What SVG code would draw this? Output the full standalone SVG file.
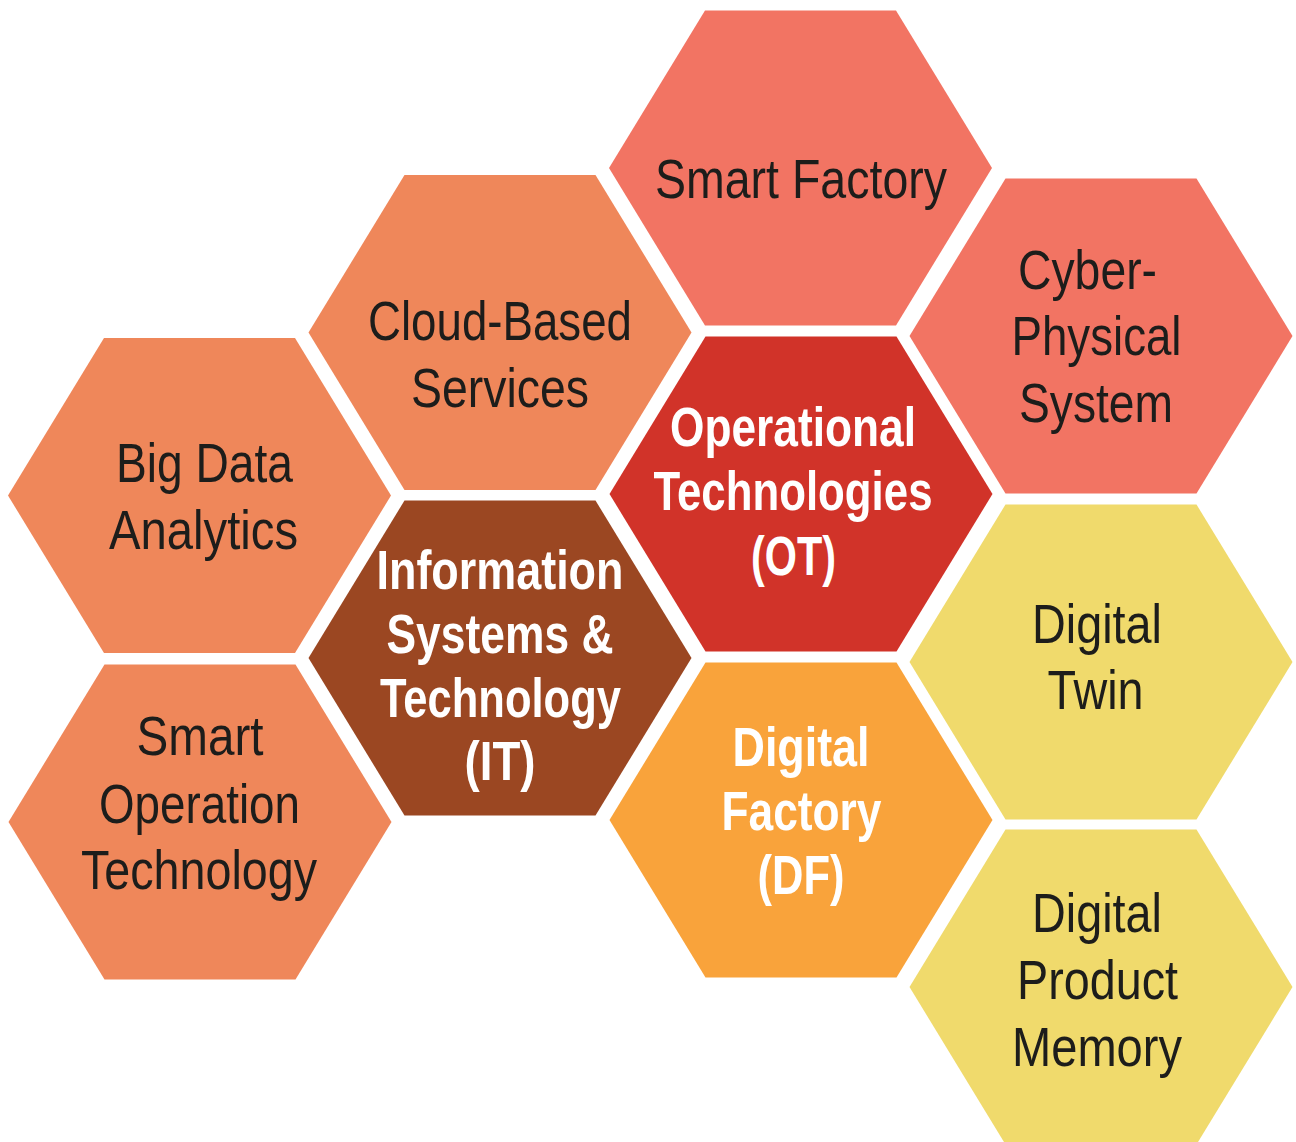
<svg xmlns="http://www.w3.org/2000/svg" xmlns:xlink="http://www.w3.org/1999/xlink" width="1296" height="1142" viewBox="0 0 1296 1142">
<style>
.bg{fill:#ffffff}
.c-orange{fill:#EF875A}
.c-salmon{fill:#F27463}
.c-red{fill:#D13329}
.c-brown{fill:#9B4722}
.c-amber{fill:#F9A33B}
.c-yellow{fill:#F0DA6C}
.t{font-family:"Liberation Sans",Arial,sans-serif;font-size:56px;fill:#1d1d1b;text-anchor:middle}
.tb{font-family:"Liberation Sans",Arial,sans-serif;font-size:55px;font-weight:bold;fill:#ffffff;text-anchor:middle}
</style>
<defs>
<polygon id="hex" points="-191.5,0 -95.5,-157.5 95.5,-157.5 191.5,0 95.5,157.5 -95.5,157.5"/>
</defs>
<rect class="bg" x="0" y="0" width="1296" height="1142"/>
<g id="connectors"/>
<g id="node-big-data">
<use href="#hex" xlink:href="#hex" x="199.5" y="495.5" class="c-orange"/>
<text class="t" x="204.5" y="482" textLength="177" lengthAdjust="spacingAndGlyphs">Big Data</text>
<text class="t" x="203.5" y="549" textLength="189" lengthAdjust="spacingAndGlyphs">Analytics</text>
</g>
<g id="node-smart-operation">
<use href="#hex" xlink:href="#hex" x="200" y="822" class="c-orange"/>
<text class="t" x="200" y="755" textLength="127" lengthAdjust="spacingAndGlyphs">Smart</text>
<text class="t" x="199.5" y="822.5" textLength="201" lengthAdjust="spacingAndGlyphs">Operation</text>
<text class="t" x="199" y="889" textLength="236" lengthAdjust="spacingAndGlyphs">Technology</text>
</g>
<g id="node-cloud">
<use href="#hex" xlink:href="#hex" x="500" y="332.5" class="c-orange"/>
<text class="t" x="500" y="340" textLength="264" lengthAdjust="spacingAndGlyphs">Cloud-Based</text>
<text class="t" x="500" y="406.5" textLength="178" lengthAdjust="spacingAndGlyphs">Services</text>
</g>
<g id="node-it">
<use href="#hex" xlink:href="#hex" x="500" y="658" class="c-brown"/>
<text class="tb" x="500" y="589" textLength="247" lengthAdjust="spacingAndGlyphs">Information</text>
<text class="tb" x="500" y="652.5" textLength="227" lengthAdjust="spacingAndGlyphs">Systems &amp;</text>
<text class="tb" x="500.5" y="716.5" textLength="241" lengthAdjust="spacingAndGlyphs">Technology</text>
<text class="tb" x="500" y="780" textLength="71" lengthAdjust="spacingAndGlyphs">(IT)</text>
</g>
<g id="node-smart-factory">
<use href="#hex" xlink:href="#hex" x="800.5" y="168" class="c-salmon"/>
<text class="t" x="801" y="198" textLength="292" lengthAdjust="spacingAndGlyphs">Smart Factory</text>
</g>
<g id="node-ot">
<use href="#hex" xlink:href="#hex" x="801" y="494" class="c-red"/>
<text class="tb" x="793" y="446" textLength="246" lengthAdjust="spacingAndGlyphs">Operational</text>
<text class="tb" x="793" y="510" textLength="279" lengthAdjust="spacingAndGlyphs">Technologies</text>
<text class="tb" x="793.5" y="575" textLength="85" lengthAdjust="spacingAndGlyphs">(OT)</text>
</g>
<g id="node-df">
<use href="#hex" xlink:href="#hex" x="801" y="820" class="c-amber"/>
<text class="tb" x="801" y="766" textLength="137" lengthAdjust="spacingAndGlyphs">Digital</text>
<text class="tb" x="801.5" y="830" textLength="160" lengthAdjust="spacingAndGlyphs">Factory</text>
<text class="tb" x="801" y="894" textLength="87" lengthAdjust="spacingAndGlyphs">(DF)</text>
</g>
<g id="node-cyber">
<use href="#hex" xlink:href="#hex" x="1101" y="336" class="c-salmon"/>
<text class="t" x="1087.5" y="288.5" textLength="139" lengthAdjust="spacingAndGlyphs">Cyber-</text>
<text class="t" x="1096.5" y="355" textLength="170" lengthAdjust="spacingAndGlyphs">Physical</text>
<text class="t" x="1096" y="421.5" textLength="154" lengthAdjust="spacingAndGlyphs">System</text>
</g>
<g id="node-digital-twin">
<use href="#hex" xlink:href="#hex" x="1101" y="662" class="c-yellow"/>
<text class="t" x="1097" y="642.5" textLength="130" lengthAdjust="spacingAndGlyphs">Digital</text>
<text class="t" x="1095.5" y="709" textLength="96" lengthAdjust="spacingAndGlyphs">Twin</text>
</g>
<g id="node-dpm">
<use href="#hex" xlink:href="#hex" x="1101" y="987" class="c-yellow"/>
<text class="t" x="1097" y="931.5" textLength="130" lengthAdjust="spacingAndGlyphs">Digital</text>
<text class="t" x="1097.5" y="999" textLength="161" lengthAdjust="spacingAndGlyphs">Product</text>
<text class="t" x="1097" y="1066" textLength="170" lengthAdjust="spacingAndGlyphs">Memory</text>
</g>
</svg>
